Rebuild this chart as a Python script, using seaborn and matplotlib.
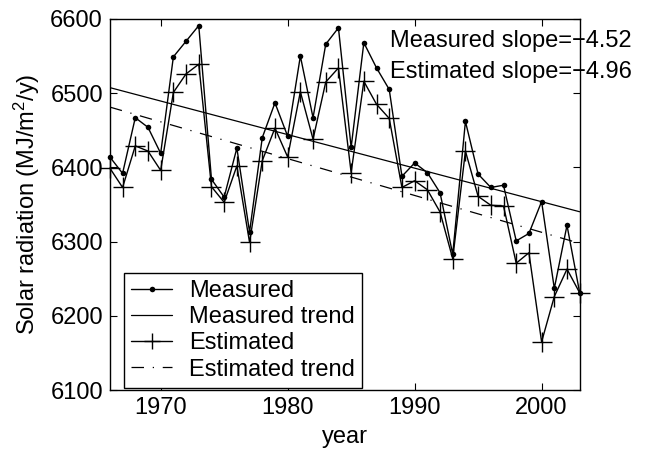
import numpy as np
import pandas as pd
import matplotlib
matplotlib.use("Agg")
import matplotlib.pyplot as plt
import seaborn as sns

years = list(range(1966, 2004))
measured = [6414, 6392, 6467, 6454, 6419, 6549, 6570, 6591, 6384, 6360,
            6426, 6313, 6440, 6487, 6442, 6550, 6467, 6566, 6588, 6427,
            6568, 6534, 6505, 6388, 6406, 6393, 6366, 6283, 6462, 6391,
            6373, 6376, 6301, 6311, 6354, 6237, 6322, 6231]
estimated = [6399, 6373, 6429, 6422, 6396, 6501, 6526, 6539, 6374, 6353,
             6402, 6299, 6409, 6453, 6414, 6502, 6438, 6515, 6534, 6393,
             6516, 6485, 6466, 6373, 6382, 6370, 6340, 6277, 6422, 6361,
             6349, 6348, 6271, 6285, 6165, 6226, 6263, 6231]
measured_slope = -4.52
estimated_slope = -4.96

df = pd.DataFrame({"year": years, "Measured": measured, "Estimated": estimated})

# Least-squares trend lines pass through the data means with the stated slopes
x = np.array(years, dtype=float)
xm = x.mean()
df["Measured trend"] = np.mean(measured) + measured_slope * (x - xm)
df["Estimated trend"] = np.mean(estimated) + estimated_slope * (x - xm)

sns.set_style("white")
plt.rcParams["font.family"] = ["Liberation Sans", "DejaVu Sans"]
plt.rcParams["mathtext.fontset"] = "custom"
plt.rcParams["mathtext.rm"] = "Liberation Sans"
plt.rcParams["mathtext.it"] = "Liberation Sans"
plt.rcParams["text.color"] = "black"
plt.rcParams["axes.labelcolor"] = "black"

FS = 17

fig = plt.figure(figsize=(6.58, 4.51), dpi=100)
ax = fig.add_axes([0.167, 0.135, 0.714, 0.823])

sns.lineplot(data=df, x="year", y="Measured", ax=ax, color="black", lw=1,
             marker="o", markersize=4, markeredgewidth=0, label="Measured",
             clip_on=False)
sns.lineplot(data=df, x="year", y="Measured trend", ax=ax, color="black", lw=0.9,
             label="Measured trend")
sns.lineplot(data=df, x="year", y="Estimated", ax=ax, color="black", lw=1,
             marker="+", markersize=15, markeredgewidth=1,
             markeredgecolor="black", label="Estimated", clip_on=False)
sns.lineplot(data=df, x="year", y="Estimated trend", ax=ax, color="black", lw=0.9,
             linestyle=(0, (10, 7, 1, 7)), label="Estimated trend")

ax.set_xlim(1966, 2003)
ax.set_ylim(6100, 6600)
ax.set_xticks([1970, 1980, 1990, 2000])
ax.set_yticks([6100, 6200, 6300, 6400, 6500, 6600])
ax.tick_params(direction="in", length=5, width=0.8, labelsize=FS, top=True,
               right=True, bottom=True, left=True, pad=5, colors="black")
for s in ax.spines.values():
    s.set_color("black")
    s.set_linewidth(1)

ax.set_xlabel("year", fontsize=FS, labelpad=5)
ax.set_ylabel("Solar radiation (MJ/m$^2$/y)", fontsize=FS, labelpad=6)

ax.text(0.596, 0.94, f"Measured slope={measured_slope:.2f}".replace("-", "\u2212"),
        transform=ax.transAxes, fontsize=FS, ha="left", va="center")
ax.text(0.596, 0.856, f"Estimated slope={estimated_slope:.2f}".replace("-", "\u2212"),
        transform=ax.transAxes, fontsize=FS, ha="left", va="center")

leg = ax.legend(loc="lower left", bbox_to_anchor=(0.025, 0.0), fontsize=FS,
                frameon=True, fancybox=False, edgecolor="black", framealpha=1,
                handlelength=1.75, handletextpad=0.7, borderpad=0.3,
                labelspacing=0.18, borderaxespad=0.1)
leg.get_frame().set_linewidth(1)
for h in leg.get_lines():
    if h.get_marker() == "+":
        h.set_markersize(11)

fig.savefig("out.png", dpi=100)
